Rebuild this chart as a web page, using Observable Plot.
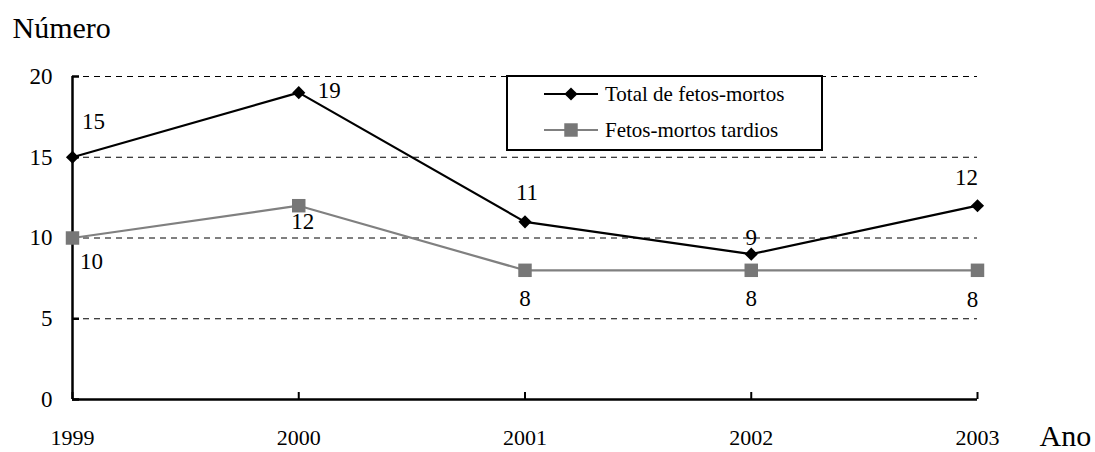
<!DOCTYPE html>
<html><head><meta charset="utf-8">
<script src="https://cdn.jsdelivr.net/npm/d3@7"></script>
<script src="https://cdn.jsdelivr.net/npm/@observablehq/plot@0.6"></script>
<style>
body{margin:0;background:#fff;}
#wrap{position:relative;width:1095px;height:452px;font-family:'Liberation Serif','Times New Roman',Times,'DejaVu Serif',serif;}
#wrap svg, #wrap svg text{font-family:'Liberation Serif','Times New Roman',Times,'DejaVu Serif',serif !important;}
#legend{position:absolute;left:506px;top:75px;}
</style></head>
<body><div id="wrap"></div>
<script>
const years = [1999, 2000, 2001, 2002, 2003];
const totalFetosMortos = [15, 19, 11, 9, 12];
const fetosMortosTardios = [10, 12, 8, 8, 8];
const yTicks = [0, 5, 10, 15, 20];
const seriesNames = ["Total de fetos-mortos", "Fetos-mortos tardios"];

const FONT = "'Liberation Serif','Times New Roman',Times,'DejaVu Serif',serif";

const totalRows = years.map((yr, i) => ({year: yr, value: totalFetosMortos[i], series: seriesNames[0]}));
const tardRows = years.map((yr, i) => ({year: yr, value: fetosMortosTardios[i], series: seriesNames[1]}));

// label offsets (style, not data)
const totalOff = [[21,-36,"middle"],[19,-2,"start"],[2,-29,"middle"],[0,-17,"middle"],[-11,-28,"middle"]];
const tardOff = [[19,24,"middle"],[4,16,"middle"],[0,28,"middle"],[0,28,"middle"],[-5,29,"middle"]];
const labelMarks = (data, offs) => data.map((d, i) => Plot.text([d], {
  x: "year", y: "value", text: r => String(r.value),
  dx: offs[i][0], dy: offs[i][1], textAnchor: offs[i][2], fontSize: 23, fill: "#000"
}));

const plot = Plot.plot({
  width: 1095, height: 452,
  marginLeft: 72, marginRight: 118, marginTop: 76, marginBottom: 53,
  x: {type: "linear", domain: [years[0], years[years.length - 1]]},
  y: {domain: [0, 20]},
  style: {fontFamily: FONT, background: "#fff", color: "#000"},
  marks: [
    Plot.ruleY(yTicks.filter(v => v > 0), {y: d => d, stroke: "#000", strokeWidth: 1, strokeDasharray: "6,5"}),
    Plot.ruleX([years[0]], {x: d => d, stroke: "#000", strokeWidth: 2.5}),
    Plot.ruleY([0], {y: d => d, stroke: "#000", strokeWidth: 2.5}),
    Plot.tickY(yTicks, {y: d => d, insetRight: 898, stroke: "#000", strokeWidth: 2.5}),
    Plot.tickX(years, {x: d => d, insetTop: 316, stroke: "#000", strokeWidth: 2}),
    Plot.axisY({ticks: yTicks, tickSize: 0, tickPadding: 20, fontSize: 23, label: null}),
    Plot.axisX({ticks: years, tickFormat: d => String(d), tickSize: 0, tickPadding: 30, fontSize: 22, label: null}),
    Plot.line(tardRows, {x: "year", y: "value", stroke: "#808080", strokeWidth: 2.2}),
    Plot.line(totalRows, {x: "year", y: "value", stroke: "#000", strokeWidth: 2.2}),
    Plot.dot(tardRows, {x: "year", y: "value", symbol: "square", r: 7.6, fill: "#777", stroke: "none"}),
    Plot.dot(totalRows, {x: "year", y: "value", symbol: "diamond2", r: 5.9, fill: "#000", stroke: "none"}),
    ...labelMarks(totalRows, totalOff),
    ...labelMarks(tardRows, tardOff),
    Plot.text(["Número"], {text: d => d, frameAnchor: "top-left", dx: -60, dy: -39, textAnchor: "start", lineAnchor: "bottom", fontSize: 30}),
    Plot.text(["Ano"], {text: d => d, frameAnchor: "bottom-right", dx: 62, dy: 46, textAnchor: "start", lineAnchor: "bottom", fontSize: 30})
  ]
});
const wrap = document.getElementById("wrap");
wrap.appendChild(plot);
d3.select(plot).selectAll("text").attr("font-family", FONT).style("font-variant", "normal");
d3.select(plot).selectAll("g").style("font-variant", "normal");

// legend
const lg = d3.create("svg").attr("id", "legend").attr("width", 317).attr("height", 76)
  .attr("font-family", FONT);
lg.append("rect").attr("x", 1).attr("y", 1).attr("width", 315).attr("height", 74)
  .attr("fill", "#fff").attr("stroke", "#000").attr("stroke-width", 2);
const legendItems = [
  {name: seriesNames[0], color: "#000", symbol: d3.symbolDiamond2, size: Math.PI * 5.9 * 5.9, fill: "#000"},
  {name: seriesNames[1], color: "#808080", symbol: d3.symbolSquare, size: Math.PI * 7.6 * 7.6, fill: "#777"}
];
legendItems.forEach((it, i) => {
  const g = lg.append("g").attr("transform", `translate(0,${19 + i * 36})`);
  g.append("line").attr("x1", 38).attr("x2", 92).attr("stroke", it.color).attr("stroke-width", 2);
  g.append("path").attr("transform", "translate(65,0)").attr("d", d3.symbol(it.symbol, it.size)()).attr("fill", it.fill);
  g.append("text").attr("x", 99).attr("dy", "0.35em").attr("font-size", 21).attr("font-family", FONT).attr("fill", "#000").text(it.name);
});
wrap.appendChild(lg.node());
</script>
</body></html>
